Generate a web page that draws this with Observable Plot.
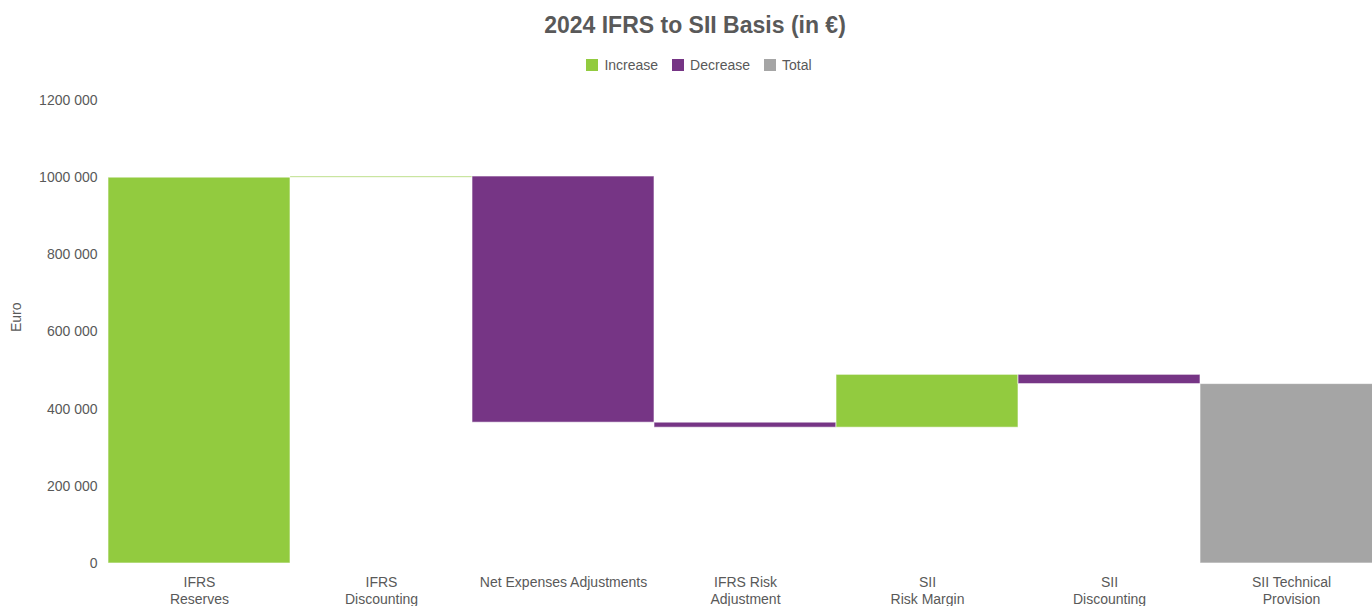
<!DOCTYPE html>
<html>
<head>
<meta charset="utf-8">
<script src="https://cdn.jsdelivr.net/npm/d3@7"></script>
<script src="https://cdn.jsdelivr.net/npm/@observablehq/plot@0.6"></script>
<style>
  body { margin: 0; background: #fff; font-family: "Liberation Sans", Arial, sans-serif; }
  #title { height: 50px; line-height: 50px; text-align: center; font-size: 23px; font-weight: bold; color: #595959; padding-left: 18px; }
  #legend { height: 30px; display: flex; justify-content: center; align-items: center; font-size: 14px; color: #595959; padding-left: 26px; }
  #legend .item { display: flex; align-items: center; margin: 0 7px; }
  #legend .sw { width: 12px; height: 12px; margin-right: 6px; display: inline-block; }
</style>
</head>
<body>
<div id="title">2024 IFRS to SII Basis (in €)</div>
<div id="legend"></div>
<div id="chart"></div>
<script>
const categories = ["IFRS\nReserves", "IFRS\nDiscounting", "Net Expenses Adjustments", "IFRS Risk\nAdjustment", "SII\nRisk Margin", "SII\nDiscounting", "SII Technical\nProvision"];
const values = [1000000, 3000, -638000, -13000, 137000, -24000, 465000];
const types = ["Increase", "Increase", "Decrease", "Decrease", "Increase", "Decrease", "Total"];
const legendLabels = ["Increase", "Decrease", "Total"];
const legendColors = ["#92CB3F", "#763585", "#A5A5A5"];
const yTicks = [0, 200000, 400000, 600000, 800000, 1000000, 1200000];

// build waterfall rows
let running = 0;
const rows = categories.map((c, i) => {
  let y1, y2;
  if (types[i] === "Total") { y1 = 0; y2 = values[i]; running = values[i]; }
  else { y1 = running; y2 = running + values[i]; running = y2; }
  return { category: c, y1, y2, type: types[i] };
});

const legend = document.getElementById("legend");
legendLabels.forEach((l, i) => {
  const it = document.createElement("div");
  it.className = "item";
  it.innerHTML = `<span class="sw" style="background:${legendColors[i]}"></span>${l}`;
  legend.appendChild(it);
});

const fmt = d => d >= 1000 ? `${Math.floor(d / 1000)} ${String(d % 1000).padStart(3, "0")}` : String(d);

const chart = Plot.plot({
  width: 1372,
  height: 526,
  marginLeft: 108,
  marginRight: -10,
  marginTop: 20,
  marginBottom: 43,
  style: { fontFamily: "Liberation Sans, Arial, sans-serif", fontSize: "14px", color: "#595959", background: "#fff" },
  x: { domain: categories, padding: 0, round: false, label: null },
  y: { domain: [0, 1200000], label: null },
  color: { domain: legendLabels, range: legendColors },
  marks: [
    Plot.rectY(rows, { x: "category", y1: "y1", y2: "y2", fill: "type", stroke: "white", strokeWidth: 1, strokeOpacity: 0.6 }),
    Plot.axisY({ ticks: yTicks, tickFormat: fmt, tickSize: 0, tickPadding: 11, fontSize: 14, fill: "#595959", label: null }),
    Plot.text(["Euro"], { frameAnchor: "left", dx: -92, rotate: -90, fontSize: 14, fill: "#595959" }),
    Plot.axisX({ tickSize: 0, tickPadding: 12, fontSize: 14, fill: "#595959", lineHeight: 1.2, label: null })
  ]
});
document.getElementById("chart").appendChild(chart);
</script>
</body>
</html>
